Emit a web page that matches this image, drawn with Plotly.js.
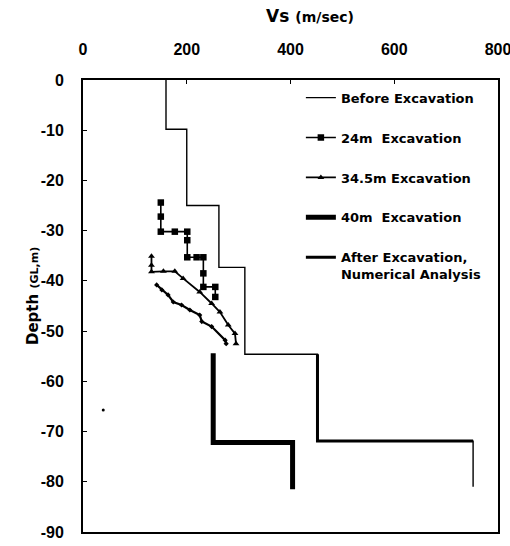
<!DOCTYPE html>
<html>
<head>
<meta charset="utf-8">
<script src="https://cdn.plot.ly/plotly-3.0.1.min.js"></script>
<style>html,body{margin:0;padding:0;background:#fff;}#chart{width:510px;height:546px;}</style>
</head>
<body>
<div id="chart"></div>
<script>
// Before Excavation profile
const beforeVs    = [160, 160, 200, 200, 262, 262, 312, 312, 452, 452, 752, 752];
const beforeDepth = [0, -9.8, -9.8, -25.0, -25.0, -37.3, -37.3, -54.6, -54.6, -71.9, -71.9, -81.0];
// 24m Excavation
const ex24Vs    = [150, 150, 150, 177, 201, 201, 201, 219, 232, 232, 232, 255, 255];
const ex24Depth = [-24.4, -27.2, -30.2, -30.2, -30.2, -31.9, -35.3, -35.3, -35.3, -38.5, -41.2, -41.2, -43.2];
// 34.5m Excavation
const ex345Vs    = [132, 132, 132, 155, 177, 193, 225, 248, 264, 280, 293, 295];
const ex345Depth = [-35.1, -36.9, -38.2, -38.1, -38.1, -39.5, -42.2, -44.5, -46.2, -48.8, -50.5, -52.5];
// 40m Excavation (measured upper part)
const ex40aVs    = [142, 152, 164, 174, 190, 206, 225, 229, 248, 274, 276];
const ex40aDepth = [-40.8, -41.8, -42.8, -44.2, -44.8, -45.8, -46.8, -48.1, -49.1, -51.8, -52.5];
// 40m Excavation (thick profile below)
const ex40bVs    = [251, 251, 404, 404];
const ex40bDepth = [-54.4, -72.2, -72.2, -81.5];
// After Excavation, Numerical Analysis
const afterVs    = [452, 452, 752];
const afterDepth = [-54.6, -71.9, -71.9];
// stray speck in the scan
const speckVs = [39];
const speckDepth = [-65.7];

const xTicks = [0, 200, 400, 600, 800];
const xTickText = ['0', '200', '400', '600', '800'];
const yTicks = [0, -10, -20, -30, -40, -50, -60, -70, -80, -90];
const yTickText = ['0', '-10', '-20', '-30', '-40', '-50', '-60', '-70', '-80', '-90'];

const FONT = 'Liberation Sans, Arial, sans-serif';
const WIDE = 'DejaVu Sans, Verdana, sans-serif';

const traces = [
  {x: beforeVs, y: beforeDepth, mode: 'lines', name: 'Before Excavation', legendgroup: 'g1',
   line: {color: '#000', width: 1.4}},
  {x: ex24Vs, y: ex24Depth, mode: 'lines+markers', name: '24m  Excavation', legendgroup: 'g2',
   line: {color: '#000', width: 1.6}, marker: {symbol: 'square', size: 6.5, color: '#000'}},
  {x: ex345Vs, y: ex345Depth, mode: 'lines+markers', name: '34.5m Excavation', legendgroup: 'g3',
   line: {color: '#000', width: 1.8}, marker: {symbol: 'triangle-up', size: 6, color: '#000'}},
  {x: ex40bVs, y: ex40bDepth, mode: 'lines', name: '40m  Excavation', legendgroup: 'g4',
   line: {color: '#000', width: 5}},
  {x: ex40aVs, y: ex40aDepth, mode: 'lines+markers', name: '40m  Excavation', legendgroup: 'g4', showlegend: false,
   line: {color: '#000', width: 2.2}, marker: {symbol: 'diamond', size: 4, color: '#000'}},
  {x: afterVs, y: afterDepth, mode: 'lines', name: 'After Excavation,<br>Numerical Analysis', legendgroup: 'g5',
   line: {color: '#000', width: 3}},
  {x: speckVs, y: speckDepth, mode: 'markers', showlegend: false, hoverinfo: 'skip',
   marker: {color: '#000', size: 3}}
];

const layout = {
  width: 510, height: 546,
  margin: {l: 83, r: 12, t: 80, b: 14},
  paper_bgcolor: '#fff', plot_bgcolor: '#fff',
  font: {family: FONT, color: '#000'},
  showlegend: true,
  title: {
    text: 'Vs <span style="font-size:14px">(m/sec)</span>',
    font: {family: WIDE, size: 17, color: '#000', weight: 'bold'},
    x: 310 / 510, xref: 'container', xanchor: 'center',
    y: 1 - 16 / 546, yref: 'container', yanchor: 'middle'
  },
  xaxis: {
    side: 'top', range: [0, 800], tickvals: xTicks, ticktext: xTickText,
    ticks: 'inside', ticklen: 4, tickwidth: 1, tickcolor: '#000',
    showline: true, linewidth: 2, linecolor: '#000', mirror: true,
    showgrid: false, zeroline: false, ticklabelstandoff: 17, ticklabeloverflow: 'allow',
    tickfont: {family: FONT, size: 16, color: '#000', weight: 'bold'}
  },
  yaxis: {
    range: [-90, 0], tickvals: yTicks, ticktext: yTickText,
    ticks: 'inside', ticklen: 4, tickwidth: 1, tickcolor: '#000',
    showline: true, linewidth: 2, linecolor: '#000', mirror: true,
    showgrid: false, zeroline: false, ticklabelstandoff: 14, ticklabeloverflow: 'allow',
    tickfont: {family: FONT, size: 16, color: '#000', weight: 'bold'}
  },
  legend: {
    x: 0.525, y: 0.994, xanchor: 'left', yanchor: 'top',
    traceorder: 'grouped', tracegroupgap: 20, valign: 'top',
    bgcolor: 'rgba(0,0,0,0)', borderwidth: 0,
    font: {family: WIDE, size: 13, color: '#000', weight: 'bold'}
  },
  annotations: [{
    text: 'Depth <span style="font-size:11px">(GL,m)</span>',
    xref: 'paper', yref: 'paper', textangle: -90,
    x: (33 - 83) / 415, y: (532 - 296) / 452, xanchor: 'center', yanchor: 'middle',
    showarrow: false, font: {family: WIDE, size: 15, color: '#000', weight: 'bold'}
  }]
};

Plotly.newPlot('chart', traces, layout, {displayModeBar: false, staticPlot: true});
</script>
</body>
</html>
